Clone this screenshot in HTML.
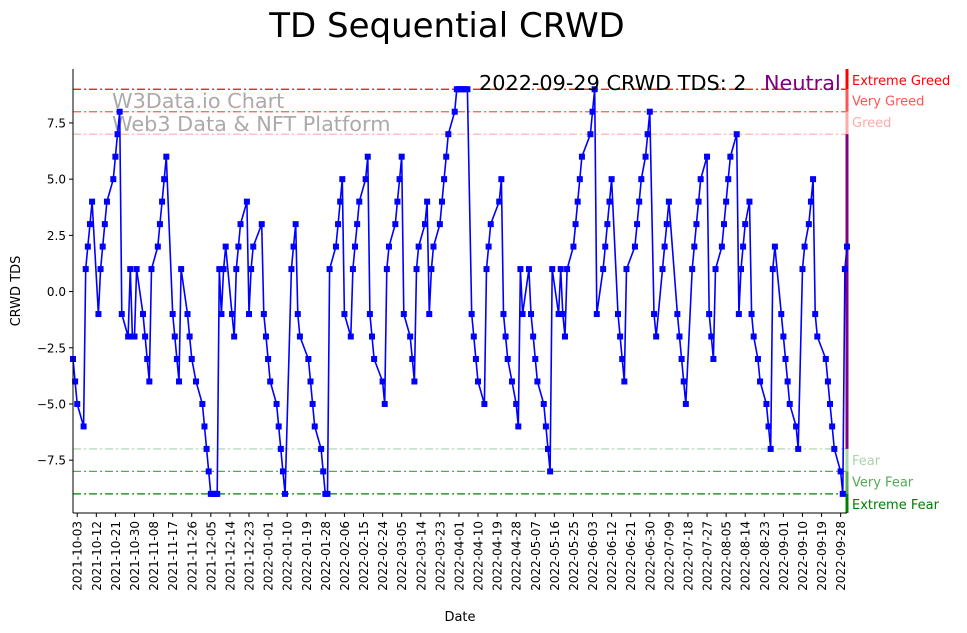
<!DOCTYPE html>
<html><head><meta charset="utf-8"><style>
html,body{margin:0;padding:0;background:#fff;}
svg{display:block;font-family:"DejaVu Sans","Liberation Sans",sans-serif;}
</style></head><body>
<svg id="chart" width="967" height="633" viewBox="0 0 967 633">
<text x="447" y="37" font-size="34" text-anchor="middle" fill="#000">TD Sequential CRWD</text>
<g id="grid"></g>
<g id="wm">
<text x="112" y="108" font-size="20.8" fill="#aaaaaa">W3Data.io Chart</text>
<text x="112" y="131" font-size="20.8" fill="#aaaaaa">Web3 Data &amp; NFT Platform</text>
</g>
<g id="series"></g>
<g id="axes"></g>
<text x="479" y="90" font-size="20.8" fill="#000">2022-09-29 CRWD TDS: 2</text>
<text x="764" y="90" font-size="20.8" fill="#800080">Neutral</text>
<text x="20" y="291" font-size="13" text-anchor="middle" transform="rotate(-90 20 291)">CRWD TDS</text>
<text x="460" y="621" font-size="13" text-anchor="middle">Date</text>
</svg>
<script>
const days = [0,1,2,5,6,7,8,9,12,13,14,15,16,19,20,21,22,23,26,27,28,29,30,33,34,35,36,37,40,41,42,43,44,47,48,49,50,51,54,55,56,58,61,62,63,64,65,66,67,68,69,70,71,72,75,76,77,78,79,82,83,84,85,89,90,91,92,93,96,97,98,99,100,103,104,105,106,107,111,112,113,114,117,118,119,120,121,124,125,126,127,128,131,132,133,134,135,138,139,140,141,142,146,147,148,149,152,153,154,155,156,159,160,161,162,163,166,167,168,169,170,173,174,175,176,177,180,181,182,183,184,185,186,188,189,190,191,194,195,196,197,201,202,203,204,205,207,209,210,211,212,215,216,217,218,219,222,223,224,225,226,229,230,231,232,233,236,237,238,239,240,244,245,246,247,250,251,252,253,254,257,258,259,260,261,265,266,267,268,270,271,272,274,275,278,279,280,281,285,286,287,288,289,292,293,294,295,296,299,300,301,302,303,306,307,308,309,310,313,314,315,316,317,319,320,321,323,324,327,328,329,330,331,334,335,336,337,338,341,342,344,345,347,348,349,350,351,355,356,357,358,359,362,363,364,365];
const tds = [-3,-4,-5,-6,1,2,3,4,-1,1,2,3,4,5,6,7,8,-1,-2,1,-2,-2,1,-1,-2,-3,-4,1,2,3,4,5,6,-1,-2,-3,-4,1,-1,-2,-3,-4,-5,-6,-7,-8,-9,-9,-9,-9,1,-1,1,2,-1,-2,1,2,3,4,-1,1,2,3,-1,-2,-3,-4,-5,-6,-7,-8,-9,1,2,3,-1,-2,-3,-4,-5,-6,-7,-8,-9,-9,1,2,3,4,5,-1,-2,1,2,3,4,5,6,-1,-2,-3,-4,-5,1,2,3,4,5,6,-1,-2,-3,-4,1,2,3,4,-1,1,2,3,4,5,6,7,8,9,9,9,9,9,9,-1,-2,-3,-4,-5,1,2,3,4,5,-1,-2,-3,-4,-5,-6,1,-1,1,-1,-2,-3,-4,-5,-6,-7,-8,1,-1,1,-1,-2,1,2,3,4,5,6,7,8,9,-1,1,2,3,4,5,-1,-2,-3,-4,1,2,3,4,5,6,7,8,-1,-2,1,2,3,4,-1,-2,-3,-4,-5,1,2,3,4,5,6,-1,-2,-3,1,2,3,4,5,6,7,-1,1,2,3,4,-1,-2,-3,-4,-5,-6,-7,1,2,-1,-2,-3,-4,-5,-6,-7,1,2,3,4,5,-1,-2,-3,-4,-5,-6,-7,-8,-9,1,2];
const yTicks = [-7.5,-5,-2.5,0,2.5,5,7.5];
const yTickLabels = ["−7.5","−5.0","−2.5","0.0","2.5","5.0","7.5"];
const xTickDays = [2,11,20,29,38,47,56,65,74,83,92,101,110,119,128,137,146,155,164,173,182,191,200,209,218,227,236,245,254,263,272,281,290,299,308,317,326,335,344,353,362];
const xTickLabels = ["2021-10-03","2021-10-12","2021-10-21","2021-10-30","2021-11-08","2021-11-17","2021-11-26","2021-12-05","2021-12-14","2021-12-23","2022-01-01","2022-01-10","2022-01-19","2022-01-28","2022-02-06","2022-02-15","2022-02-24","2022-03-05","2022-03-14","2022-03-23","2022-04-01","2022-04-10","2022-04-19","2022-04-28","2022-05-07","2022-05-16","2022-05-25","2022-06-03","2022-06-12","2022-06-21","2022-06-30","2022-07-09","2022-07-18","2022-07-27","2022-08-05","2022-08-14","2022-08-23","2022-09-01","2022-09-10","2022-09-19","2022-09-28"];
const levelValues = [9,8,7,-7,-8,-9];
const levelNames = ["Extreme Greed","Very Greed","Greed","Fear","Very Fear","Extreme Fear"];
const levelColors = ["#ff0000","#ff5555","#ffaaaa","#aad4aa","#55aa55","#008000"];

const NS="http://www.w3.org/2000/svg";
const X0=73,X1=847,Y0=69,Y1=513,DMIN=0,DMAX=365,VMIN=-9.85,VMAX=9.9;
function xs(d){return X0+(d-DMIN)/(DMAX-DMIN)*(X1-X0);}
function ys(v){return Y1-(v-VMIN)/(VMAX-VMIN)*(Y1-Y0);}
function mk(tag,attrs,parent){const e=document.createElementNS(NS,tag);for(const k in attrs)e.setAttribute(k,attrs[k]);parent.appendChild(e);return e;}

const grid=document.getElementById('grid');
levelValues.forEach((v,i)=>{
  const l=mk('line',{x1:X0,x2:X1,y1:ys(v),y2:ys(v),stroke:levelColors[i],'stroke-width':1.2,'stroke-dasharray':'8,3,2,3'},grid);
  
  
});
const segs=[[VMAX,9,levelColors[0]],[9,8,levelColors[1]],[8,7,levelColors[2]],[7,-7,"#800080"],[-7,-8,levelColors[3]],[-8,-9,levelColors[4]],[-9,VMIN,levelColors[5]]];
segs.forEach((s,i)=>{
  const r=mk('rect',{x:X1-1.5,y:ys(s[0]),width:3,height:ys(s[1])-ys(s[0]),fill:s[2]},grid);
  
  
});
const labelY=[ys(9)-4,ys(8)-6,ys(7)-7,ys(-7)+16,ys(-8)+15,ys(-9)+15];
levelValues.forEach((v,i)=>{
  const t=mk('text',{x:852,y:labelY[i],'font-size':13,fill:levelColors[i]},grid);
  t.textContent=levelNames[i];
  
  
});

const ser=document.getElementById('series');
const pts=days.map((d,i)=>xs(d).toFixed(1)+','+ys(tds[i]).toFixed(1)).join(' ');
const pl=mk('polyline',{points:pts,fill:'none',stroke:'#0000ff','stroke-width':1.6},ser);


days.forEach((d,i)=>{
  const r=mk('rect',{x:xs(d)-3,y:ys(tds[i])-3,width:6,height:6,fill:'#0000ff'},ser);
  
  
});

const ax=document.getElementById('axes');
const ly=mk('line',{x1:X0,x2:X0,y1:Y0,y2:Y1,stroke:'#000','stroke-width':1},ax);


const lx=mk('line',{x1:X0,x2:X1,y1:Y1,y2:Y1,stroke:'#000','stroke-width':1},ax);


yTicks.forEach((v,i)=>{
  mk('line',{x1:X0-4,x2:X0,y1:ys(v),y2:ys(v),stroke:'#000'},ax);
  const t=mk('text',{x:X0-7,y:ys(v)+4.5,'font-size':12,'text-anchor':'end'},ax);
  t.textContent=yTickLabels[i];
  
  
});
xTickDays.forEach((d,i)=>{
  const x=xs(d);
  mk('line',{x1:x,x2:x,y1:Y1,y2:Y1+4,stroke:'#000'},ax);
  const t=mk('text',{x:x+4.5,y:Y1+8,'font-size':12,'text-anchor':'end',transform:`rotate(-90 ${x+4.5} ${Y1+8})`},ax);
  t.textContent=xTickLabels[i];
  
  
});
</script>
</body></html>
